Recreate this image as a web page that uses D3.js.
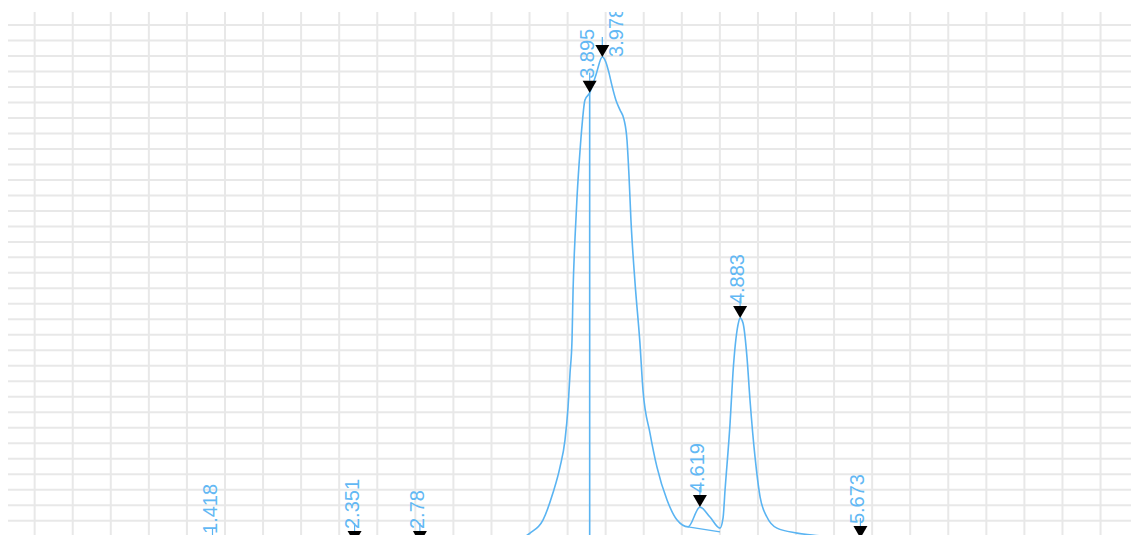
<!DOCTYPE html>
<html>
<head>
<meta charset="utf-8">
<script src="https://cdn.jsdelivr.net/npm/d3@7"></script>
<style>
  html, body { margin: 0; padding: 0; background: #fff; overflow: hidden; }
  #chart { display: block; }
</style>
</head>
<body>
<svg id="chart"></svg>
<script>
// 色谱信号 (时间 min, 信号)
const traceTimes = [0.075, 1.303, 1.369, 1.418, 1.467, 2.255, 2.308, 2.351, 2.393, 2.682, 2.728, 2.78, 2.82,
  3.24, 3.405, 3.503, 3.588, 3.654, 3.7, 3.733, 3.753, 3.766, 3.779, 3.786, 3.799, 3.812, 3.832, 3.845, 3.864,
  3.895, 3.936, 3.978, 4.002, 4.021, 4.041, 4.067, 4.094, 4.121, 4.14, 4.153, 4.166, 4.193, 4.225, 4.245,
  4.291, 4.337, 4.403, 4.469, 4.541, 4.619, 4.685, 4.751, 4.771, 4.784, 4.817, 4.836, 4.869, 4.883, 4.902,
  4.928, 4.948, 4.981, 5.014, 5.059, 5.125, 5.257, 5.408, 5.572, 5.638, 5.673, 5.723, 5.933, 7.45];
const traceValues = [0.9, 0.9, 1.2, 1.2, 0.9, 1.5, 1.8, 2.8, 1.6, 1.5, 2.2, 2.8, 1.8,
  2.2, 3.4, 6.0, 10.2, 19.0, 27.3, 36.1, 46.7, 57.7, 68.3, 84.5, 101.6, 114.5, 129.7, 137.7, 145.8,
  148.1, 153.9, 159.7, 157.9, 154.7, 150.5, 145.8, 142.6, 139.4, 132.9, 121.6, 107.1, 86.7, 67.4, 52.2,
  38.3, 27.3, 16.7, 10.2, 8.0, 14.4, 11.2, 7.6, 10.9, 19.9, 41.5, 57.7, 73.2, 75.4, 73.8,
  62.8, 48.9, 30.5, 17.7, 11.2, 7.6, 6.0, 5.1, 4.1, 4.2, 4.4, 4.1, 3.8, 3.4];

// 峰保留时间
const peakTimes = [1.418, 2.351, 2.78, 3.895, 3.978, 4.619, 4.883, 5.673];
const peakLabels = ["1.418", "2.351", "2.78", "3.895", "3.978", "4.619", "4.883", "5.673"];

// 垂直分割线 和 基线
const dropLineTimes = [3.895];
const dropLineBase = 2;
const skimBaseTimes = [4.541, 4.751];
const skimBaseValues = [8.0, 6.4];

const width = 1131, height = 535;
const lineColor = "#5ab4f2";

const svg = d3.select("#chart").attr("width", width).attr("height", height);

const x = d3.scaleLinear().domain([0.075, 7.45]).range([8, 1131]);
const y = d3.scaleLinear().domain([0, 174.2]).range([551.7, 12]);

svg.append("defs").append("clipPath").attr("id", "plot-clip")
  .append("rect").attr("x", 8).attr("y", 12).attr("width", 1130).attr("height", 560);

const plot = svg.append("g").attr("clip-path", "url(#plot-clip)");

// 网格
plot.append("g").selectAll("line")
  .data(d3.range(0, 175, 5))
  .join("line")
  .attr("x1", 8).attr("x2", 1131)
  .attr("y1", d => y(d)).attr("y2", d => y(d))
  .attr("stroke", "#e8e8e8").attr("stroke-width", 2);

plot.append("g").selectAll("line")
  .data(d3.range(0.25, 7.45, 0.25))
  .join("line")
  .attr("x1", d => x(d)).attr("x2", d => x(d))
  .attr("y1", 12).attr("y2", 600)
  .attr("stroke", "#e8e8e8").attr("stroke-width", 2);

// 信号曲线
const trace = traceTimes.map((t, i) => [t, traceValues[i]]);
const line = d3.line().x(d => x(d[0])).y(d => y(d[1]));

plot.append("path")
  .datum(trace)
  .attr("d", line.curve(d3.curveMonotoneX))
  .attr("fill", "none")
  .attr("stroke", lineColor)
  .attr("stroke-width", 1.6);

plot.append("path")
  .datum(skimBaseTimes.map((t, i) => [t, skimBaseValues[i]]))
  .attr("d", d3.line().x(d => x(d[0])).y(d => y(d[1])))
  .attr("fill", "none")
  .attr("stroke", lineColor)
  .attr("stroke-width", 1.4);

function valueAt(t) {
  let best = 0;
  traceTimes.forEach((tt, i) => {
    if (Math.abs(tt - t) < Math.abs(traceTimes[best] - t)) best = i;
  });
  return traceValues[best];
}

plot.append("g").selectAll("line")
  .data(dropLineTimes)
  .join("line")
  .attr("x1", d => x(d)).attr("x2", d => x(d))
  .attr("y1", d => y(valueAt(d))).attr("y2", y(dropLineBase))
  .attr("stroke", lineColor).attr("stroke-width", 1.6);

// 峰标记
const peaks = peakTimes.map((t, i) => ({ t, v: valueAt(t), label: peakLabels[i] }));
const triW = 7, triH = 12;

let prevX = -100;
peaks.forEach(p => {
  p.px = x(p.t);
  p.py = y(p.v);
  p.shift = (p.px - prevX) < 16;
  prevX = p.px;
});

const marks = plot.append("g");

marks.selectAll("line")
  .data(peaks)
  .join("line")
  .attr("x1", d => d.px).attr("x2", d => d.px)
  .attr("y1", d => d.py - triH).attr("y2", d => d.py - triH - 8)
  .attr("stroke", lineColor).attr("stroke-width", 1.2);

marks.selectAll("path")
  .data(peaks)
  .join("path")
  .attr("d", d => `M${d.px - triW},${d.py - triH}L${d.px + triW},${d.py - triH}L${d.px},${d.py}Z`)
  .attr("fill", "#000");

marks.selectAll("text")
  .data(peaks)
  .join("text")
  .attr("transform", d => {
    const tx = d.shift ? d.px + 17 : d.px;
    const ty = d.shift ? d.py : d.py - triH - 2;
    return `translate(${tx},${ty}) rotate(-90)`;
  })
  .attr("dy", "0.2em")
  .attr("font-family", "'Liberation Sans', Arial, sans-serif")
  .attr("font-size", 20)
  .attr("fill", "#62b8f4")
  .text(d => d.label);
</script>
</body>
</html>
